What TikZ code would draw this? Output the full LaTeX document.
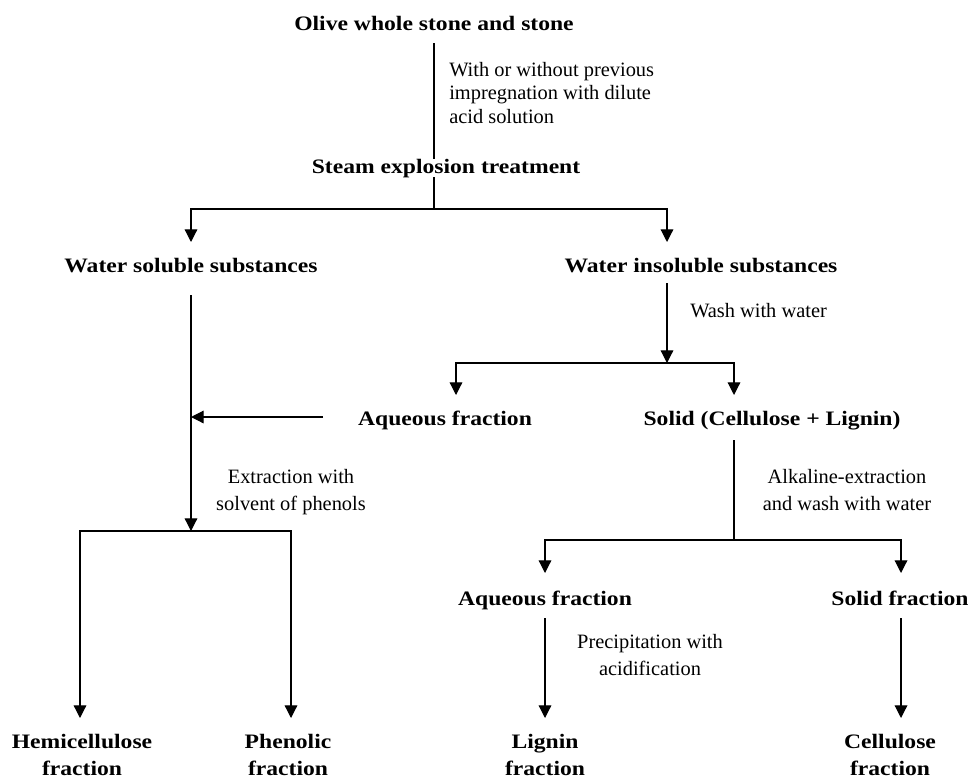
\documentclass[tikz,border=0pt]{standalone}
\usepackage{fontspec}
\setmainfont{Liberation Serif}
\newfontfamily\stagefont{Liberation Serif}[FakeStretch=1.15]
\usetikzlibrary{arrows.meta,calc}
\tikzset{
  stage/.style={font=\stagefont\bfseries\fontsize{15.4}{20.3}\selectfont,inner sep=0pt,align=center},
  note/.style={font=\fontsize{15.3}{20.3}\selectfont,inner sep=0pt},
  link/.style={line width=0.9pt},
  flow/.style={link,-{Triangle[length=9.5pt,width=9.5pt]}}
}
\begin{document}
\begin{tikzpicture}[x=0.75pt,y=-0.75pt]
  \useasboundingbox (0,0) rectangle (971,778);
  \node[stage,anchor=base] (olive) at (434,30) {Olive whole stone and stone};
  \coordinate (fork1) at (434,209);
  \draw[link] (olive.base) ++(0,13) -- (fork1);
  \node[stage,anchor=base,fill=white] (steam) at (446,173) {Steam explosion treatment};
  \node[note,anchor=north west,align=left,font=\fontsize{15.3}{17.6}\selectfont] (pretreat) at (449,62) {With or without previous\\impregnation with dilute\\acid solution};
  \node[stage,anchor=base] (wsol) at (191,272) {Water soluble substances};
  \node[stage,anchor=base] (winsol) at (701,272) {Water insoluble substances};
  \draw[flow] (fork1) -| ($(wsol.base)+(0,-30)$);
  \draw[flow] (fork1) -| ($(winsol.base)+(-34,-30)$);
  \node[note,anchor=base west] (wash) at (690,317) {Wash with water};
  \coordinate (fork3) at (667,363);
  \draw[flow] ($(winsol.base)+(-34,11)$) -- (fork3);
  \node[stage,anchor=base] (aq1) at (445,425) {Aqueous fraction};
  \node[stage,anchor=base] (solid1) at (772,425) {Solid (Cellulose + Lignin)};
  \draw[flow] (fork3) -| ($(aq1.base)+(11,-30)$);
  \draw[flow] (fork3) -| ($(solid1.base)+(-38,-30)$);
  \draw[flow] ($(aq1.base)+(-122,-8)$) coordinate (fromaq) -- (fromaq -| wsol.base);
  \coordinate (fork2) at (191,531);
  \draw[flow] ($(wsol.base)+(0,23)$) -- (fork2);
  \node[note,align=center,anchor=north] (extract) at (291,469) {Extraction with\\solvent of phenols};
  \node[stage,anchor=north] (hemi) at (82,734) {Hemicellulose\\fraction};
  \node[stage,anchor=north] (phen) at (288,734) {Phenolic\\fraction};
  \draw[flow] (fork2) -| ($(hemi.north)+(-2,-16)$);
  \draw[flow] (fork2) -| ($(phen.north)+(3,-16)$);
  \coordinate (fork4) at (734,540);
  \draw[link] ($(solid1.base)+(-38,15)$) -- (fork4);
  \node[note,align=center,anchor=north] (alkali) at (847,469) {Alkaline-extraction\\and wash with water};
  \node[stage,anchor=base] (aq2) at (545,605) {Aqueous fraction};
  \node[stage,anchor=base] (solidf) at (900,605) {Solid fraction};
  \draw[flow] (fork4) -| ($(aq2.base)+(0,-32)$);
  \draw[flow] (fork4) -| ($(solidf.base)+(1,-32)$);
  \node[stage,anchor=north] (lignin) at (545,734) {Lignin\\fraction};
  \node[stage,anchor=north] (cell) at (890,734) {Cellulose\\fraction};
  \node[note,align=center,anchor=north] (precip) at (650,634) {Precipitation with\\acidification};
  \draw[flow] ($(aq2.base)+(0,13)$) -- ($(lignin.north)+(0,-16)$);
  \draw[flow] ($(solidf.base)+(1,13)$) -- ($(cell.north)+(11,-16)$);
\end{tikzpicture}
\end{document}
